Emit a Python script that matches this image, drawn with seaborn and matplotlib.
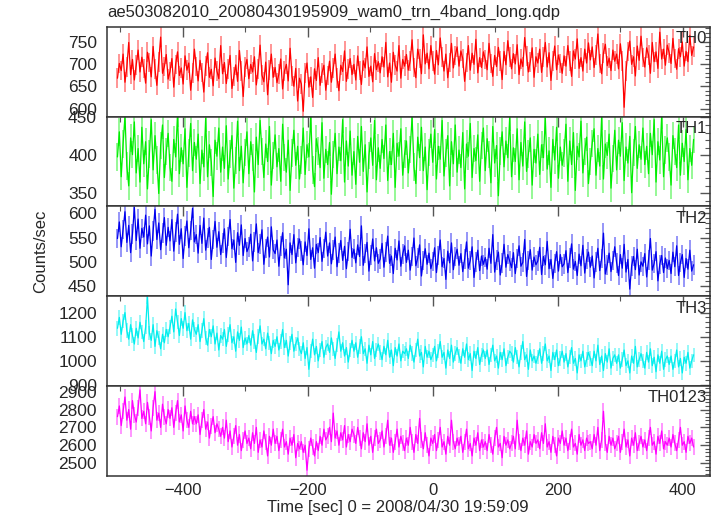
import numpy as np
import matplotlib
matplotlib.use("Agg")
import matplotlib.pyplot as plt
from matplotlib.ticker import MultipleLocator, AutoMinorLocator
import seaborn as sns

sns.set_theme(style="white")
plt.rcParams['font.family'] = ['Liberation Sans', 'DejaVu Sans']

# 3-s time bins (sec from 2008/04/30 19:59:09)
time = np.arange(-504, 420, 3)

th0 = [668, 701, 685, 722, 659, 693, 748, 676, 710, 664, 697, 731, 682, 715,
       690, 657, 726, 703, 671, 739, 688, 652, 705, 760, 679, 694, 721, 666,
       683, 712, 648, 699, 727, 674, 691, 655, 718, 686, 702, 641, 679, 733,
       694, 662, 708, 681, 637, 696, 725, 670, 688, 651, 713, 684, 667, 741,
       678, 703, 656, 689, 719, 645, 672, 698, 661, 730, 684, 627, 693, 710,
       667, 699, 682, 716, 653, 688, 742, 675, 660, 704, 631, 686, 722, 670,
       692, 658, 677, 711, 644, 684, 699, 662, 735, 673, 650, 690, 617, 668,
       655, 594, 679, 702, 648, 671, 625, 689, 663, 714, 652, 680, 697, 641,
       674, 706, 659, 691, 722, 668, 640, 697, 683, 729, 661, 688, 712, 676,
       699, 664, 718, 685, 654, 707, 691, 738, 672, 695, 660, 723, 687, 705,
       680, 716, 693, 748, 671, 702, 659, 726, 697, 684, 741, 668, 710, 695,
       721, 686, 707, 754, 692, 669, 733, 712, 678, 765, 700, 724, 689, 741,
       706, 677, 730, 698, 758, 715, 684, 722, 669, 703, 746, 691, 719, 738,
       695, 729, 712, 661, 703, 741, 686, 724, 699, 755, 680, 714, 692, 727,
       710, 687, 746, 701, 672, 719, 694, 737, 706, 665, 728, 698, 752, 715,
       689, 723, 700, 743, 676, 711, 694, 759, 718, 682, 705, 736, 670, 716,
       702, 733, 681, 715, 748, 693, 725, 663, 707, 740, 687, 720, 701, 679,
       718, 695, 741, 706, 672, 729, 711, 756, 690, 714, 684, 733, 702, 747,
       709, 738, 692, 720, 767, 701, 678, 725, 744, 696, 713, 685, 731, 706,
       722, 689, 745, 706, 603, 684, 728, 751, 699, 716, 673, 740, 708, 762,
       714, 693, 736, 720, 679, 748, 705, 727, 690, 771, 711, 733, 697, 742,
       725, 701, 757, 712, 688, 734, 716, 749, 695, 728, 705, 764, 719, 738]

th1 = [398, 431, 372, 415, 452, 386, 360, 423, 401, 444, 377, 409, 365, 437,
       389, 418, 356, 402, 447, 381, 426, 394, 350, 413, 440, 371, 405, 429,
       384, 366, 421, 398, 455, 376, 410, 389, 435, 358, 403, 442, 380, 417,
       395, 428, 363, 407, 385, 449, 372, 414, 391, 346, 420, 399, 436, 378,
       411, 383, 439, 369, 402, 426, 357, 393, 445, 380, 412, 364, 404, 431,
       376, 418, 397, 352, 424, 388, 446, 405, 371, 415, 392, 438, 361, 400,
       427, 385, 409, 366, 441, 397, 378, 420, 354, 403, 433, 387, 412, 369,
       394, 436, 375, 414, 398, 452, 381, 359, 422, 406, 384, 443, 370, 408,
       388, 417, 349, 401, 429, 376, 411, 393, 447, 365, 419, 386, 432, 374,
       405, 362, 425, 391, 438, 379, 414, 352, 400, 423, 387, 446, 368, 410,
       383, 421, 396, 440, 367, 405, 388, 429, 358, 416, 399, 435, 374, 402,
       419, 377, 408, 451, 385, 363, 424, 397, 437, 380, 411, 355, 404, 428,
       391, 434, 369, 412, 395, 446, 373, 403, 426, 360, 418, 389, 440, 378,
       407, 384, 430, 356, 415, 399, 442, 371, 409, 393, 427, 366, 413, 436,
       380, 422, 401, 364, 438, 390, 413, 347, 406, 431, 385, 419, 397, 450,
       372, 410, 392, 435, 368, 417, 386, 444, 379, 402, 423, 361, 408, 390,
       428, 375, 414, 397, 449, 382, 406, 358, 421, 394, 437, 370, 411, 387,
       403, 441, 366, 419, 388, 430, 354, 412, 398, 445, 377, 405, 424, 363,
       392, 416, 435, 374, 409, 386, 451, 369, 415, 400, 428, 357, 396, 433,
       381, 420, 399, 443, 367, 411, 390, 425, 351, 404, 438, 383, 414, 395,
       436, 388, 412, 376, 429, 401, 447, 365, 418, 394, 453, 372, 407, 423,
       398, 361, 426, 405, 384, 440, 374, 416, 392, 434, 368, 409, 387, 421]

th2 = [548, 582, 531, 566, 603, 540, 575, 519, 557, 612, 544, 588, 528, 569,
       551, 596, 537, 574, 512, 563, 608, 546, 580, 525, 559, 591, 534, 571,
       543, 587, 522, 561, 598, 536, 568, 507, 553, 584, 529, 565, 610, 541,
       556, 518, 575, 538, 590, 524, 549, 571, 505, 546, 583, 530, 562, 515,
       539, 568, 509, 552, 587, 527, 545, 499, 560, 534, 576, 513, 548, 521,
       531, 557, 502, 541, 578, 519, 537, 566, 495, 528, 551, 510, 572, 525,
       517, 545, 491, 533, 560, 508, 526, 453, 539, 515, 556, 498, 530, 547,
       522, 494, 541, 513, 568, 505, 529, 487, 536, 519, 550, 501, 527, 561,
       512, 539, 496, 524, 551, 490, 518, 544, 503, 532, 486, 521, 567, 509,
       526, 498, 535, 511, 574, 493, 517, 540, 481, 514, 547, 502, 529, 497,
       506, 538, 489, 520, 553, 497, 512, 476, 528, 504, 543, 491, 516, 533,
       499, 524, 483, 511, 549, 492, 508, 535, 471, 503, 527, 495, 518, 486,
       501, 529, 478, 513, 545, 490, 507, 464, 522, 498, 539, 484, 511, 526,
       493, 517, 480, 506, 541, 487, 503, 531, 468, 500, 524, 482, 512, 495,
       509, 485, 528, 497, 556, 479, 504, 520, 473, 498, 536, 489, 515, 502,
       488, 519, 476, 507, 533, 491, 499, 546, 470, 503, 525, 483, 510, 494,
       502, 530, 474, 511, 494, 542, 486, 505, 466, 497, 521, 481, 515, 490,
       496, 523, 478, 508, 537, 485, 501, 472, 516, 492, 534, 477, 506, 520,
       489, 512, 467, 500, 528, 482, 507, 559, 475, 494, 518, 480, 503, 531,
       498, 472, 515, 487, 536, 479, 505, 444, 492, 511, 484, 526, 473, 500,
       491, 517, 469, 504, 548, 483, 497, 521, 461, 495, 513, 478, 508, 486,
       503, 476, 520, 490, 533, 472, 499, 515, 468, 507, 485, 524, 481, 494]

th3 = [1135, 1180, 1110, 1165, 1200, 1125, 1090, 1150, 1105, 1070, 1135, 1095, 1160, 1120,
       1080, 1140, 1265, 1115, 1085, 1150, 1060, 1125, 1095, 1050, 1110, 1075, 1130, 1100,
       1140, 1185, 1120, 1215, 1160, 1105, 1175, 1135, 1200, 1125, 1155, 1090, 1170, 1130,
       1110, 1150, 1080, 1125, 1175, 1095, 1065, 1130, 1100, 1145, 1070, 1115, 1045, 1105,
       1090, 1130, 1060, 1110, 1150, 1075, 1100, 1040, 1120, 1085, 1140, 1055, 1095, 1070,
       1105, 1065, 1125, 1080, 1035, 1100, 1145, 1070, 1090, 1050, 1115, 1075, 1030, 1085,
       1060, 1100, 1045, 1080, 1130, 1055, 1085, 1020, 1075, 1110, 1040, 1070, 1095, 1050,
       1030, 1075, 1010, 1055, 965, 1040, 1090, 1025, 1060, 1000, 1045, 1080, 1015, 1055,
       1070, 1035, 1095, 1050, 1010, 1065, 1120, 1040, 1075, 1020, 1055, 995, 1045, 1085,
       1040, 1075, 1015, 1060, 1100, 1030, 1050, 990, 1065, 1025, 1080, 1010, 1045, 1070,
       1035, 1005, 1060, 1025, 1085, 1015, 1045, 980, 1055, 1020, 1070, 1000, 1040, 1030,
       1050, 1010, 1065, 1030, 995, 1045, 1090, 1020, 1035, 975, 1060, 1015, 1040, 1005,
       1025, 1060, 1000, 1040, 1080, 1015, 1035, 970, 1045, 1010, 1065, 995, 1030, 1055,
       1020, 990, 1050, 1015, 1070, 1005, 1030, 960, 1040, 1010, 1055, 985, 1025, 1045,
       1010, 1045, 985, 1025, 1065, 1000, 1020, 970, 1035, 1005, 1050, 980, 1015, 1040,
       1030, 995, 1055, 1015, 975, 1035, 1080, 1005, 1025, 965, 1045, 1000, 1020, 990,
       1015, 1050, 990, 1030, 1070, 1000, 1020, 960, 1035, 1005, 1045, 980, 1010, 1040,
       995, 1030, 975, 1015, 1055, 990, 1010, 950, 1025, 1000, 1040, 975, 1005, 1035,
       1010, 980, 1040, 1000, 1065, 985, 1020, 960, 1030, 995, 1050, 970, 1010, 1025,
       990, 1025, 970, 1005, 1045, 980, 1000, 950, 1020, 990, 1060, 975, 1005, 1030,
       1000, 970, 1035, 995, 1050, 980, 1015, 955, 1025, 990, 1040, 965, 1005, 1020,
       985, 1020, 965, 1000, 1045, 975, 1010, 950, 1015, 990, 1035, 970, 1000, 1025]

th0123 = [2760, 2820, 2710, 2790, 2870, 2740, 2800, 2690, 2850, 2770, 2730, 2810, 2910, 2750,
          2790, 2720, 2840, 2760, 2680, 2810, 2900, 2740, 2780, 2700, 2830, 2760, 2720, 2800,
          2750, 2810, 2700, 2780, 2850, 2730, 2770, 2680, 2820, 2740, 2700, 2790, 2720, 2760,
          2720, 2770, 2660, 2740, 2800, 2690, 2730, 2640, 2710, 2760, 2670, 2720, 2690, 2650,
          2700, 2640, 2740, 2620, 2680, 2590, 2650, 2710, 2600, 2660, 2570, 2630, 2680, 2610,
          2640, 2580, 2670, 2610, 2700, 2560, 2630, 2590, 2680, 2620, 2540, 2650, 2600, 2690,
          2610, 2650, 2570, 2630, 2690, 2590, 2620, 2550, 2640, 2600, 2660, 2530, 2610, 2580,
          2620, 2560, 2600, 2460, 2580, 2640, 2590, 2540, 2620, 2570, 2650, 2600, 2690, 2630,
          2650, 2700, 2620, 2780, 2640, 2680, 2600, 2670, 2630, 2710, 2590, 2660, 2620, 2690,
          2660, 2610, 2700, 2640, 2580, 2670, 2620, 2720, 2600, 2650, 2560, 2640, 2690, 2610,
          2630, 2680, 2590, 2650, 2740, 2600, 2640, 2560, 2620, 2690, 2590, 2650, 2610, 2570,
          2640, 2600, 2700, 2620, 2560, 2660, 2610, 2750, 2630, 2580, 2670, 2600, 2540, 2640,
          2610, 2660, 2570, 2630, 2700, 2590, 2620, 2550, 2650, 2600, 2740, 2620, 2580, 2640,
          2600, 2650, 2560, 2620, 2690, 2580, 2610, 2540, 2640, 2600, 2670, 2570, 2630, 2590,
          2620, 2570, 2660, 2600, 2550, 2640, 2700, 2590, 2610, 2530, 2650, 2600, 2630, 2580,
          2610, 2650, 2580, 2740, 2620, 2570, 2640, 2600, 2680, 2550, 2620, 2590, 2660, 2610,
          2630, 2580, 2670, 2610, 2720, 2590, 2620, 2560, 2650, 2600, 2540, 2640, 2610, 2680,
          2600, 2640, 2570, 2620, 2690, 2590, 2610, 2550, 2660, 2600, 2630, 2570, 2640, 2610,
          2620, 2580, 2660, 2600, 2700, 2570, 2630, 2790, 2610, 2560, 2650, 2600, 2640, 2580,
          2610, 2650, 2560, 2620, 2690, 2590, 2630, 2540, 2640, 2600, 2670, 2570, 2610, 2650,
          2590, 2630, 2570, 2640, 2700, 2600, 2620, 2550, 2650, 2610, 2680, 2580, 2620, 2600,
          2640, 2590, 2660, 2610, 2570, 2630, 2700, 2600, 2620, 2560, 2650, 2610, 2640, 2590]

# 1-sigma errors per band (counts/sec)
errs = [22, 18, 20, 30, 45]

bands = ['TH0', 'TH1', 'TH2', 'TH3', 'TH0123']
series = [th0, th1, th2, th3, th0123]
colors = ['#ff0000', '#00ee00', '#0000ee', '#00eeee', '#ff00ff']
ylims = [(582, 783), (333, 451), (429.5, 614), (896, 1268), (2429, 2932)]
ymajor = [50, 50, 50, 100, 100]

fig = plt.figure(figsize=(7.17, 5.16), dpi=100)
left, right, top, bottom = 0.149, 0.990, 0.948, 0.078
h = (top - bottom) / 5

for i in range(5):
    ax = fig.add_axes([left, top - (i + 1) * h, right - left, h])
    y = np.array(series[i])
    ax.errorbar(time, y, yerr=errs[i], fmt='none', ecolor=colors[i],
                alpha=0.45, elinewidth=1.3)
    sns.lineplot(x=time, y=y, ax=ax, color=colors[i], lw=0.9)
    ax.set_xlim(-521, 443)
    ax.set_ylim(*ylims[i])
    ax.xaxis.set_major_locator(MultipleLocator(200))
    ax.xaxis.set_minor_locator(MultipleLocator(100))
    ax.yaxis.set_major_locator(MultipleLocator(ymajor[i]))
    ax.yaxis.set_minor_locator(AutoMinorLocator(5))
    ax.tick_params(which='both', direction='in', top=True, right=True,
                   color='#555555')
    ax.tick_params(which='major', length=7, width=1)
    ax.tick_params(which='minor', length=3.5, width=0.8)
    ax.tick_params(axis='y', labelsize=12.5, pad=7)
    ax.tick_params(axis='x', labelsize=12, pad=5)
    for s in ax.spines.values():
        s.set_color('#333333')
        s.set_linewidth(1.1)
    if i < 4:
        ax.set_xticklabels([])
    ax.set_xlabel('')
    ax.set_ylabel('')
    ax.text(0.995, 0.95, bands[i], transform=ax.transAxes, ha='right',
            va='top', fontsize=12)

fig.text(0.149, 0.975, 'ae503082010_20080430195909_wam0_trn_4band_long.qdp',
         fontsize=12, ha='left', va='center')
fig.text(0.056, 0.512, 'Counts/sec', rotation=90, fontsize=12,
         ha='center', va='center')
fig.text(0.555, 0.017, 'Time [sec] 0 = 2008/04/30 19:59:09', fontsize=12,
         ha='center', va='center')

fig.savefig('out.png', dpi=100)
